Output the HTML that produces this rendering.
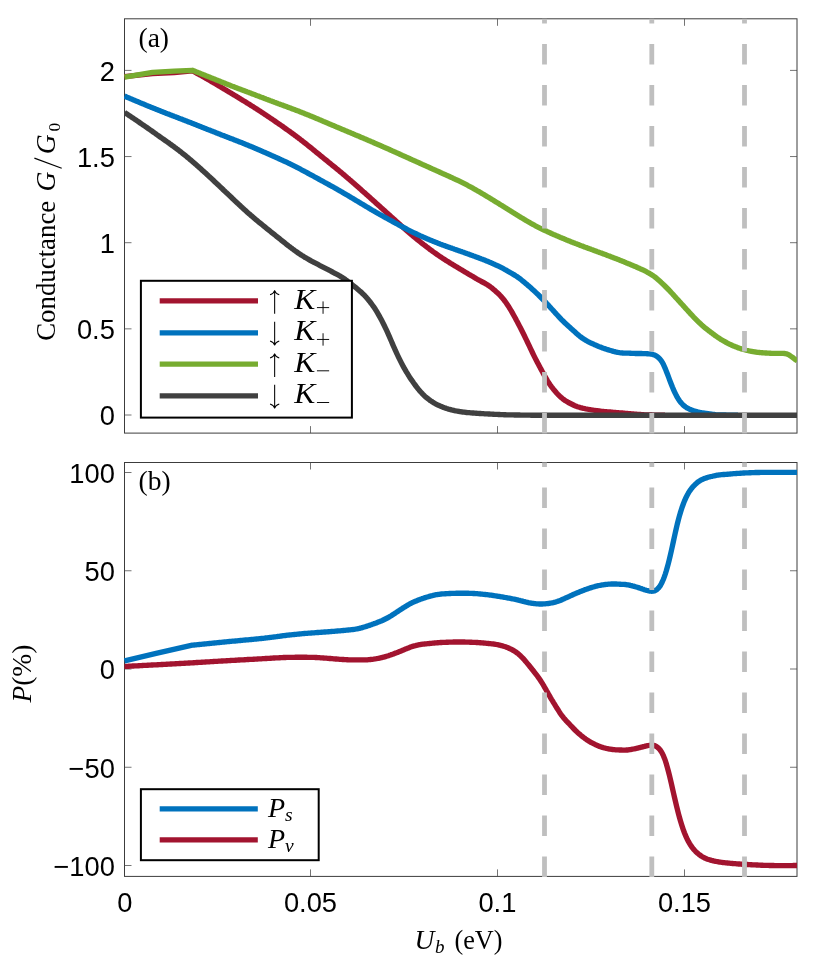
<!DOCTYPE html>
<html><head><meta charset="utf-8"><title>Conductance and polarization</title>
<style>html,body{margin:0;padding:0;background:#fff;}body{width:830px;height:964px;overflow:hidden;font-family:"Liberation Sans",sans-serif;}svg{display:block;will-change:transform;}</style></head>
<body>
<svg width="830" height="964" viewBox="0 0 830 964">
<rect width="830" height="964" fill="#fff"/>
<defs><clipPath id="ca"><rect x="124.00" y="18.30" width="673.00" height="415.50"/></clipPath><clipPath id="cb"><rect x="124.00" y="462.00" width="673.00" height="415.10"/></clipPath></defs>
<rect x="124.50" y="18.80" width="672.50" height="414.30" fill="none" stroke="#3c3c3c" stroke-width="1"/><path d="M310.50 433.10 v-7.00 M310.50 18.80 v7.00 M497.50 433.10 v-7.00 M497.50 18.80 v7.00 M684.50 433.10 v-7.00 M684.50 18.80 v7.00 M124.50 415.00 h7.00 M797.00 415.00 h-7.00 M124.50 328.85 h7.00 M797.00 328.85 h-7.00 M124.50 242.70 h7.00 M797.00 242.70 h-7.00 M124.50 156.55 h7.00 M797.00 156.55 h-7.00 M124.50 70.40 h7.00 M797.00 70.40 h-7.00 " stroke="#454545" stroke-width="0.75" fill="none"/>
<g clip-path="url(#ca)">
<path d="M124.5 76.6 L152.5 73.6 L174.2 72.7 L192.4 70.8 L193.4 71.3 L194.4 71.9 L195.4 72.4 L196.4 73.0 L197.4 73.5 L198.4 74.1 L199.4 74.6 L200.4 75.2 L201.4 75.7 L202.4 76.3 L203.4 76.8 L204.4 77.4 L205.4 78.0 L206.4 78.5 L207.4 79.1 L208.4 79.7 L209.4 80.3 L210.4 80.9 L211.4 81.5 L212.4 82.0 L213.4 82.6 L214.4 83.2 L215.4 83.8 L216.4 84.4 L217.4 85.0 L218.4 85.6 L219.4 86.2 L220.4 86.8 L221.4 87.4 L222.4 88.0 L223.4 88.6 L224.4 89.2 L225.4 89.8 L226.4 90.4 L227.4 91.0 L228.4 91.6 L229.4 92.2 L230.4 92.8 L231.4 93.4 L232.4 94.0 L233.4 94.6 L234.4 95.2 L235.4 95.8 L236.4 96.4 L237.4 97.0 L238.4 97.6 L239.4 98.2 L240.4 98.9 L241.4 99.5 L242.4 100.1 L243.4 100.7 L244.4 101.3 L245.4 101.9 L246.4 102.5 L247.4 103.2 L248.4 103.8 L249.4 104.4 L250.4 105.0 L251.4 105.7 L252.4 106.3 L253.4 106.9 L254.4 107.6 L255.4 108.2 L256.4 108.8 L257.4 109.5 L258.4 110.1 L259.4 110.8 L260.4 111.4 L261.4 112.1 L262.4 112.7 L263.4 113.4 L264.4 114.1 L265.4 114.7 L266.4 115.4 L267.4 116.1 L268.4 116.7 L269.4 117.4 L270.4 118.1 L271.4 118.8 L272.4 119.4 L273.4 120.1 L274.4 120.8 L275.4 121.5 L276.4 122.2 L277.4 122.9 L278.4 123.6 L279.4 124.2 L280.4 124.9 L281.4 125.6 L282.4 126.3 L283.4 127.0 L284.4 127.8 L285.4 128.5 L286.4 129.2 L287.4 129.9 L288.4 130.6 L289.4 131.3 L290.4 132.0 L291.4 132.8 L292.4 133.5 L293.4 134.2 L294.4 135.0 L295.4 135.7 L296.4 136.5 L297.4 137.2 L298.4 138.0 L299.4 138.7 L300.4 139.5 L301.4 140.3 L302.4 141.0 L303.4 141.8 L304.4 142.6 L305.4 143.4 L306.4 144.2 L307.4 145.0 L308.4 145.8 L309.4 146.6 L310.4 147.4 L311.4 148.2 L312.4 149.0 L313.4 149.8 L314.4 150.7 L315.4 151.5 L316.4 152.3 L317.4 153.1 L318.4 153.9 L319.4 154.7 L320.4 155.6 L321.4 156.4 L322.4 157.2 L323.4 158.0 L324.4 158.8 L325.4 159.6 L326.4 160.4 L327.4 161.2 L328.4 162.1 L329.4 162.9 L330.4 163.7 L331.4 164.5 L332.4 165.3 L333.4 166.1 L334.4 166.9 L335.4 167.7 L336.4 168.6 L337.4 169.4 L338.4 170.2 L339.4 171.0 L340.4 171.9 L341.4 172.7 L342.4 173.5 L343.4 174.4 L344.4 175.2 L345.4 176.1 L346.4 176.9 L347.4 177.8 L348.4 178.6 L349.4 179.5 L350.4 180.3 L351.4 181.2 L352.4 182.1 L353.4 182.9 L354.4 183.8 L355.4 184.7 L356.4 185.6 L357.4 186.4 L358.4 187.3 L359.4 188.2 L360.4 189.1 L361.4 190.0 L362.4 190.9 L363.4 191.8 L364.4 192.6 L365.4 193.5 L366.4 194.4 L367.4 195.3 L368.4 196.2 L369.4 197.1 L370.4 198.0 L371.4 198.9 L372.4 199.8 L373.4 200.7 L374.4 201.6 L375.4 202.5 L376.4 203.4 L377.4 204.3 L378.4 205.2 L379.4 206.1 L380.4 207.0 L381.4 207.9 L382.4 208.8 L383.4 209.7 L384.4 210.6 L385.4 211.5 L386.4 212.4 L387.4 213.3 L388.4 214.2 L389.4 215.1 L390.4 216.0 L391.4 216.9 L392.4 217.8 L393.4 218.7 L394.4 219.6 L395.4 220.5 L396.4 221.4 L397.4 222.3 L398.4 223.2 L399.4 224.1 L400.4 225.0 L401.4 225.9 L402.4 226.8 L403.4 227.7 L404.4 228.6 L405.4 229.5 L406.4 230.3 L407.4 231.2 L408.4 232.1 L409.4 232.9 L410.4 233.8 L411.4 234.6 L412.4 235.5 L413.4 236.3 L414.4 237.1 L415.4 237.9 L416.4 238.8 L417.4 239.6 L418.4 240.4 L419.4 241.2 L420.4 242.0 L421.4 242.8 L422.4 243.6 L423.4 244.4 L424.4 245.1 L425.4 245.9 L426.4 246.7 L427.4 247.4 L428.4 248.2 L429.4 249.0 L430.4 249.7 L431.4 250.4 L432.4 251.2 L433.4 251.9 L434.4 252.6 L435.4 253.3 L436.4 254.0 L437.4 254.7 L438.4 255.4 L439.4 256.1 L440.4 256.8 L441.4 257.4 L442.4 258.1 L443.4 258.8 L444.4 259.4 L445.4 260.0 L446.4 260.7 L447.4 261.3 L448.4 261.9 L449.4 262.5 L450.4 263.2 L451.4 263.8 L452.4 264.4 L453.4 265.0 L454.4 265.6 L455.4 266.2 L456.4 266.8 L457.4 267.4 L458.4 268.0 L459.4 268.6 L460.4 269.2 L461.4 269.8 L462.4 270.4 L463.4 271.0 L464.4 271.6 L465.4 272.2 L466.4 272.8 L467.4 273.4 L468.4 274.0 L469.4 274.6 L470.4 275.1 L471.4 275.7 L472.4 276.3 L473.4 276.9 L474.4 277.5 L475.4 278.1 L476.4 278.7 L477.4 279.3 L478.4 279.8 L479.4 280.4 L480.4 280.9 L481.4 281.5 L482.4 282.0 L483.4 282.5 L484.4 283.0 L485.4 283.6 L486.4 284.2 L487.4 284.8 L488.4 285.5 L489.4 286.1 L490.4 286.9 L491.4 287.6 L492.4 288.4 L493.4 289.3 L494.4 290.1 L495.4 291.0 L496.4 291.9 L497.4 292.8 L498.4 293.7 L499.4 294.7 L500.4 295.8 L501.4 296.9 L502.4 298.0 L503.4 299.2 L504.4 300.5 L505.4 301.8 L506.4 303.2 L507.4 304.7 L508.4 306.2 L509.4 307.8 L510.4 309.5 L511.4 311.2 L512.4 312.9 L513.4 314.7 L514.4 316.5 L515.4 318.3 L516.4 320.2 L517.4 322.0 L518.4 323.9 L519.4 325.9 L520.4 327.8 L521.4 329.8 L522.4 331.8 L523.4 333.8 L524.4 335.8 L525.4 337.9 L526.4 339.9 L527.4 342.0 L528.4 344.1 L529.4 346.2 L530.4 348.3 L531.4 350.4 L532.4 352.5 L533.4 354.6 L534.4 356.6 L535.4 358.6 L536.4 360.5 L537.4 362.4 L538.4 364.3 L539.4 366.2 L540.4 368.1 L541.4 369.9 L542.4 371.8 L543.4 373.6 L544.4 375.4 L545.4 377.2 L546.4 378.9 L547.4 380.6 L548.4 382.2 L549.4 383.7 L550.4 385.2 L551.4 386.6 L552.4 387.9 L553.4 389.2 L554.4 390.4 L555.4 391.5 L556.4 392.7 L557.4 393.8 L558.4 394.8 L559.4 395.8 L560.4 396.8 L561.4 397.7 L562.4 398.5 L563.4 399.3 L564.4 400.0 L565.4 400.7 L566.4 401.3 L567.4 401.9 L568.4 402.5 L569.4 403.0 L570.4 403.5 L571.4 404.0 L572.4 404.5 L573.4 405.0 L574.4 405.5 L575.4 405.9 L576.4 406.3 L577.4 406.7 L578.4 407.0 L579.4 407.3 L580.4 407.6 L581.4 407.8 L582.4 408.1 L583.4 408.3 L584.4 408.5 L585.4 408.8 L586.4 409.0 L587.4 409.2 L588.4 409.3 L589.4 409.5 L590.4 409.7 L591.4 409.8 L592.4 410.0 L593.4 410.2 L594.4 410.3 L595.4 410.5 L596.4 410.6 L597.4 410.7 L598.4 410.9 L599.4 411.0 L600.4 411.1 L601.4 411.3 L602.4 411.4 L603.4 411.5 L604.4 411.6 L605.4 411.6 L606.4 411.7 L607.4 411.8 L608.4 411.9 L609.4 412.0 L610.4 412.0 L611.4 412.1 L612.4 412.2 L613.4 412.3 L614.4 412.4 L615.4 412.5 L616.4 412.6 L617.4 412.6 L618.4 412.7 L619.4 412.8 L620.4 412.9 L621.4 413.0 L622.4 413.0 L623.4 413.1 L624.4 413.2 L625.4 413.3 L626.4 413.4 L627.4 413.5 L628.4 413.6 L629.4 413.6 L630.4 413.7 L631.4 413.8 L632.4 413.9 L633.4 414.0 L634.4 414.1 L635.4 414.1 L636.4 414.2 L637.4 414.3 L638.4 414.4 L639.4 414.4 L640.4 414.5 L641.4 414.6 L642.4 414.6 L643.4 414.7 L644.4 414.8 L645.4 414.8 L646.4 414.9 L647.4 414.9 L648.4 414.9 L649.4 415.0 L650.4 415.0 L651.4 415.0 L652.4 415.1 L653.4 415.1 L654.4 415.1 L655.4 415.1 L656.4 415.1 L657.4 415.1 L658.4 415.2 L659.4 415.2 L660.4 415.2 L661.4 415.2 L662.4 415.2 L663.4 415.2 L664.4 415.2 L665.0 415.2" fill="none" stroke="#A2142F" stroke-width="5.35" stroke-linejoin="round" stroke-linecap="butt"/>
<path d="M124.5 96.1 L125.5 96.5 L126.5 97.0 L127.5 97.4 L128.5 97.8 L129.5 98.2 L130.5 98.7 L131.5 99.1 L132.5 99.5 L133.5 99.9 L134.5 100.3 L135.5 100.8 L136.5 101.2 L137.5 101.6 L138.5 102.0 L139.5 102.4 L140.5 102.9 L141.5 103.3 L142.5 103.7 L143.5 104.1 L144.5 104.5 L145.5 104.9 L146.5 105.4 L147.5 105.8 L148.5 106.2 L149.5 106.6 L150.5 107.0 L151.5 107.4 L152.5 107.8 L153.5 108.2 L154.5 108.6 L155.5 109.0 L156.5 109.4 L157.5 109.8 L158.5 110.2 L159.5 110.6 L160.5 111.0 L161.5 111.4 L162.5 111.8 L163.5 112.2 L164.5 112.6 L165.5 113.0 L166.5 113.4 L167.5 113.8 L168.5 114.1 L169.5 114.5 L170.5 114.9 L171.5 115.3 L172.5 115.7 L173.5 116.1 L174.5 116.5 L175.5 116.8 L176.5 117.2 L177.5 117.6 L178.5 118.0 L179.5 118.4 L180.5 118.8 L181.5 119.1 L182.5 119.5 L183.5 119.9 L184.5 120.3 L185.5 120.7 L186.5 121.1 L187.5 121.5 L188.5 121.9 L189.5 122.2 L190.5 122.6 L191.5 123.0 L192.5 123.4 L193.5 123.8 L194.5 124.2 L195.5 124.6 L196.5 125.0 L197.5 125.4 L198.5 125.8 L199.5 126.2 L200.5 126.6 L201.5 127.0 L202.5 127.4 L203.5 127.8 L204.5 128.2 L205.5 128.6 L206.5 129.0 L207.5 129.4 L208.5 129.8 L209.5 130.1 L210.5 130.5 L211.5 130.9 L212.5 131.3 L213.5 131.7 L214.5 132.1 L215.5 132.5 L216.5 132.9 L217.5 133.3 L218.5 133.7 L219.5 134.1 L220.5 134.5 L221.5 134.9 L222.5 135.3 L223.5 135.6 L224.5 136.0 L225.5 136.4 L226.5 136.8 L227.5 137.2 L228.5 137.6 L229.5 138.0 L230.5 138.4 L231.5 138.7 L232.5 139.1 L233.5 139.5 L234.5 139.9 L235.5 140.3 L236.5 140.7 L237.5 141.1 L238.5 141.5 L239.5 141.9 L240.5 142.2 L241.5 142.6 L242.5 143.0 L243.5 143.4 L244.5 143.8 L245.5 144.3 L246.5 144.7 L247.5 145.1 L248.5 145.5 L249.5 145.9 L250.5 146.3 L251.5 146.7 L252.5 147.1 L253.5 147.6 L254.5 148.0 L255.5 148.4 L256.5 148.8 L257.5 149.3 L258.5 149.7 L259.5 150.1 L260.5 150.6 L261.5 151.0 L262.5 151.4 L263.5 151.9 L264.5 152.3 L265.5 152.7 L266.5 153.2 L267.5 153.6 L268.5 154.1 L269.5 154.5 L270.5 154.9 L271.5 155.4 L272.5 155.8 L273.5 156.3 L274.5 156.7 L275.5 157.2 L276.5 157.6 L277.5 158.1 L278.5 158.5 L279.5 159.0 L280.5 159.4 L281.5 159.9 L282.5 160.3 L283.5 160.8 L284.5 161.3 L285.5 161.7 L286.5 162.2 L287.5 162.7 L288.5 163.2 L289.5 163.6 L290.5 164.1 L291.5 164.6 L292.5 165.1 L293.5 165.6 L294.5 166.1 L295.5 166.6 L296.5 167.1 L297.5 167.7 L298.5 168.2 L299.5 168.7 L300.5 169.2 L301.5 169.8 L302.5 170.3 L303.5 170.8 L304.5 171.4 L305.5 171.9 L306.5 172.4 L307.5 173.0 L308.5 173.5 L309.5 174.1 L310.5 174.6 L311.5 175.2 L312.5 175.7 L313.5 176.2 L314.5 176.8 L315.5 177.3 L316.5 177.9 L317.5 178.4 L318.5 179.0 L319.5 179.5 L320.5 180.1 L321.5 180.6 L322.5 181.2 L323.5 181.7 L324.5 182.3 L325.5 182.8 L326.5 183.4 L327.5 183.9 L328.5 184.5 L329.5 185.0 L330.5 185.6 L331.5 186.1 L332.5 186.7 L333.5 187.2 L334.5 187.8 L335.5 188.4 L336.5 188.9 L337.5 189.5 L338.5 190.1 L339.5 190.6 L340.5 191.2 L341.5 191.8 L342.5 192.4 L343.5 193.0 L344.5 193.6 L345.5 194.1 L346.5 194.7 L347.5 195.3 L348.5 195.9 L349.5 196.5 L350.5 197.1 L351.5 197.7 L352.5 198.3 L353.5 198.9 L354.5 199.5 L355.5 200.1 L356.5 200.7 L357.5 201.3 L358.5 201.9 L359.5 202.5 L360.5 203.1 L361.5 203.7 L362.5 204.3 L363.5 204.9 L364.5 205.5 L365.5 206.1 L366.5 206.7 L367.5 207.3 L368.5 207.9 L369.5 208.5 L370.5 209.1 L371.5 209.7 L372.5 210.3 L373.5 210.8 L374.5 211.4 L375.5 212.0 L376.5 212.6 L377.5 213.1 L378.5 213.7 L379.5 214.3 L380.5 214.8 L381.5 215.4 L382.5 215.9 L383.5 216.5 L384.5 217.1 L385.5 217.6 L386.5 218.2 L387.5 218.7 L388.5 219.3 L389.5 219.8 L390.5 220.4 L391.5 220.9 L392.5 221.5 L393.5 222.0 L394.5 222.6 L395.5 223.1 L396.5 223.7 L397.5 224.2 L398.5 224.8 L399.5 225.3 L400.5 225.9 L401.5 226.4 L402.5 226.9 L403.5 227.5 L404.5 228.0 L405.5 228.5 L406.5 229.0 L407.5 229.6 L408.5 230.1 L409.5 230.6 L410.5 231.1 L411.5 231.6 L412.5 232.1 L413.5 232.6 L414.5 233.1 L415.5 233.5 L416.5 234.0 L417.5 234.5 L418.5 234.9 L419.5 235.4 L420.5 235.9 L421.5 236.3 L422.5 236.7 L423.5 237.2 L424.5 237.6 L425.5 238.1 L426.5 238.5 L427.5 238.9 L428.5 239.3 L429.5 239.8 L430.5 240.2 L431.5 240.6 L432.5 241.0 L433.5 241.4 L434.5 241.8 L435.5 242.2 L436.5 242.6 L437.5 243.0 L438.5 243.4 L439.5 243.8 L440.5 244.2 L441.5 244.5 L442.5 244.9 L443.5 245.3 L444.5 245.6 L445.5 246.0 L446.5 246.4 L447.5 246.7 L448.5 247.1 L449.5 247.4 L450.5 247.8 L451.5 248.1 L452.5 248.5 L453.5 248.8 L454.5 249.2 L455.5 249.5 L456.5 249.9 L457.5 250.2 L458.5 250.6 L459.5 250.9 L460.5 251.3 L461.5 251.6 L462.5 252.0 L463.5 252.3 L464.5 252.7 L465.5 253.1 L466.5 253.4 L467.5 253.8 L468.5 254.1 L469.5 254.5 L470.5 254.9 L471.5 255.2 L472.5 255.6 L473.5 256.0 L474.5 256.3 L475.5 256.7 L476.5 257.1 L477.5 257.4 L478.5 257.8 L479.5 258.2 L480.5 258.6 L481.5 259.0 L482.5 259.3 L483.5 259.7 L484.5 260.1 L485.5 260.5 L486.5 260.9 L487.5 261.3 L488.5 261.7 L489.5 262.2 L490.5 262.6 L491.5 263.0 L492.5 263.4 L493.5 263.9 L494.5 264.3 L495.5 264.8 L496.5 265.3 L497.5 265.7 L498.5 266.2 L499.5 266.7 L500.5 267.2 L501.5 267.7 L502.5 268.2 L503.5 268.7 L504.5 269.3 L505.5 269.8 L506.5 270.4 L507.5 271.0 L508.5 271.6 L509.5 272.1 L510.5 272.7 L511.5 273.3 L512.5 273.9 L513.5 274.5 L514.5 275.0 L515.5 275.7 L516.5 276.3 L517.5 277.0 L518.5 277.7 L519.5 278.4 L520.5 279.2 L521.5 280.0 L522.5 280.8 L523.5 281.6 L524.5 282.4 L525.5 283.3 L526.5 284.1 L527.5 285.0 L528.5 285.9 L529.5 286.7 L530.5 287.6 L531.5 288.5 L532.5 289.4 L533.5 290.3 L534.5 291.2 L535.5 292.2 L536.5 293.1 L537.5 294.1 L538.5 295.0 L539.5 296.0 L540.5 297.0 L541.5 298.0 L542.5 299.0 L543.5 300.0 L544.5 301.0 L545.5 302.1 L546.5 303.2 L547.5 304.3 L548.5 305.4 L549.5 306.5 L550.5 307.6 L551.5 308.7 L552.5 309.8 L553.5 310.9 L554.5 312.0 L555.5 313.1 L556.5 314.2 L557.5 315.3 L558.5 316.4 L559.5 317.5 L560.5 318.5 L561.5 319.6 L562.5 320.6 L563.5 321.5 L564.5 322.5 L565.5 323.4 L566.5 324.3 L567.5 325.3 L568.5 326.2 L569.5 327.1 L570.5 328.0 L571.5 328.9 L572.5 329.8 L573.5 330.7 L574.5 331.6 L575.5 332.5 L576.5 333.4 L577.5 334.3 L578.5 335.2 L579.5 336.0 L580.5 336.8 L581.5 337.5 L582.5 338.2 L583.5 338.9 L584.5 339.5 L585.5 340.1 L586.5 340.7 L587.5 341.3 L588.5 341.8 L589.5 342.3 L590.5 342.8 L591.5 343.3 L592.5 343.7 L593.5 344.2 L594.5 344.7 L595.5 345.1 L596.5 345.5 L597.5 345.9 L598.5 346.4 L599.5 346.8 L600.5 347.1 L601.5 347.5 L602.5 347.9 L603.5 348.3 L604.5 348.6 L605.5 348.9 L606.5 349.3 L607.5 349.6 L608.5 349.9 L609.5 350.2 L610.5 350.5 L611.5 350.8 L612.5 351.1 L613.5 351.4 L614.5 351.6 L615.5 351.9 L616.5 352.1 L617.5 352.3 L618.5 352.5 L619.5 352.7 L620.5 352.8 L621.5 352.9 L622.5 353.0 L623.5 353.1 L624.5 353.1 L625.5 353.1 L626.5 353.1 L627.5 353.1 L628.5 353.1 L629.5 353.2 L630.5 353.2 L631.5 353.3 L632.5 353.3 L633.5 353.4 L634.5 353.4 L635.5 353.5 L636.5 353.5 L637.5 353.5 L638.5 353.5 L639.5 353.5 L640.5 353.5 L641.5 353.5 L642.5 353.6 L643.5 353.6 L644.5 353.6 L645.5 353.6 L646.5 353.7 L647.5 353.7 L648.5 353.8 L649.5 353.9 L650.5 354.0 L651.5 354.2 L652.5 354.4 L653.5 354.7 L654.5 355.1 L655.5 355.5 L656.5 356.1 L657.5 356.8 L658.5 357.6 L659.5 358.6 L660.5 359.7 L661.5 361.1 L662.5 362.7 L663.5 364.6 L664.5 366.8 L665.5 369.1 L666.5 371.7 L667.5 374.3 L668.5 376.9 L669.5 379.6 L670.5 382.2 L671.5 384.8 L672.5 387.3 L673.5 389.6 L674.5 391.8 L675.5 393.9 L676.5 395.9 L677.5 397.7 L678.5 399.3 L679.5 400.8 L680.5 402.1 L681.5 403.2 L682.5 404.3 L683.5 405.3 L684.5 406.1 L685.5 406.9 L686.5 407.6 L687.5 408.2 L688.5 408.7 L689.5 409.2 L690.5 409.6 L691.5 410.0 L692.5 410.4 L693.5 410.7 L694.5 411.0 L695.5 411.3 L696.5 411.6 L697.5 411.9 L698.5 412.1 L699.5 412.3 L700.5 412.5 L701.5 412.7 L702.5 412.8 L703.5 413.0 L704.5 413.1 L705.5 413.3 L706.5 413.4 L707.5 413.6 L708.5 413.7 L709.5 413.8 L710.5 414.0 L711.5 414.1 L712.5 414.3 L713.5 414.4 L714.5 414.5 L715.5 414.7 L716.5 414.8 L717.5 414.9 L718.5 414.9 L719.5 415.0 L720.5 415.0 L721.5 415.0 L722.5 415.0 L723.5 415.0 L724.5 415.0 L725.5 415.0 L726.5 415.1 L727.5 415.1 L728.5 415.1 L729.5 415.1 L730.5 415.1 L731.5 415.2 L732.5 415.2 L733.5 415.2 L734.5 415.2 L735.5 415.2 L736.5 415.2 L737.5 415.2 L738.0 415.2" fill="none" stroke="#0072BD" stroke-width="5.35" stroke-linejoin="round" stroke-linecap="butt"/>
<path d="M124.5 77.2 L152.5 72.3 L174.2 71.2 L192.4 70.3 L193.4 70.7 L194.4 71.1 L195.4 71.5 L196.4 71.9 L197.4 72.3 L198.4 72.7 L199.4 73.1 L200.4 73.5 L201.4 73.9 L202.4 74.3 L203.4 74.7 L204.4 75.1 L205.4 75.5 L206.4 75.9 L207.4 76.3 L208.4 76.7 L209.4 77.1 L210.4 77.5 L211.4 77.9 L212.4 78.3 L213.4 78.7 L214.4 79.1 L215.4 79.5 L216.4 79.9 L217.4 80.3 L218.4 80.7 L219.4 81.1 L220.4 81.5 L221.4 81.9 L222.4 82.3 L223.4 82.7 L224.4 83.1 L225.4 83.5 L226.4 83.9 L227.4 84.3 L228.4 84.7 L229.4 85.1 L230.4 85.5 L231.4 85.9 L232.4 86.3 L233.4 86.6 L234.4 87.0 L235.4 87.4 L236.4 87.8 L237.4 88.2 L238.4 88.6 L239.4 88.9 L240.4 89.3 L241.4 89.7 L242.4 90.1 L243.4 90.4 L244.4 90.8 L245.4 91.2 L246.4 91.6 L247.4 92.0 L248.4 92.3 L249.4 92.7 L250.4 93.1 L251.4 93.5 L252.4 93.9 L253.4 94.2 L254.4 94.6 L255.4 95.0 L256.4 95.4 L257.4 95.8 L258.4 96.1 L259.4 96.5 L260.4 96.9 L261.4 97.3 L262.4 97.6 L263.4 98.0 L264.4 98.4 L265.4 98.8 L266.4 99.2 L267.4 99.5 L268.4 99.9 L269.4 100.3 L270.4 100.7 L271.4 101.0 L272.4 101.4 L273.4 101.8 L274.4 102.2 L275.4 102.5 L276.4 102.9 L277.4 103.3 L278.4 103.7 L279.4 104.0 L280.4 104.4 L281.4 104.8 L282.4 105.1 L283.4 105.5 L284.4 105.9 L285.4 106.2 L286.4 106.6 L287.4 107.0 L288.4 107.4 L289.4 107.7 L290.4 108.1 L291.4 108.5 L292.4 108.9 L293.4 109.2 L294.4 109.6 L295.4 110.0 L296.4 110.4 L297.4 110.7 L298.4 111.1 L299.4 111.5 L300.4 111.9 L301.4 112.3 L302.4 112.7 L303.4 113.1 L304.4 113.5 L305.4 113.9 L306.4 114.3 L307.4 114.7 L308.4 115.1 L309.4 115.5 L310.4 115.9 L311.4 116.3 L312.4 116.7 L313.4 117.1 L314.4 117.6 L315.4 118.0 L316.4 118.4 L317.4 118.8 L318.4 119.2 L319.4 119.7 L320.4 120.1 L321.4 120.5 L322.4 120.9 L323.4 121.4 L324.4 121.8 L325.4 122.2 L326.4 122.6 L327.4 123.1 L328.4 123.5 L329.4 123.9 L330.4 124.3 L331.4 124.8 L332.4 125.2 L333.4 125.6 L334.4 126.0 L335.4 126.4 L336.4 126.9 L337.4 127.3 L338.4 127.7 L339.4 128.1 L340.4 128.6 L341.4 129.0 L342.4 129.4 L343.4 129.8 L344.4 130.2 L345.4 130.7 L346.4 131.1 L347.4 131.5 L348.4 131.9 L349.4 132.3 L350.4 132.7 L351.4 133.2 L352.4 133.6 L353.4 134.0 L354.4 134.4 L355.4 134.9 L356.4 135.3 L357.4 135.7 L358.4 136.1 L359.4 136.5 L360.4 137.0 L361.4 137.4 L362.4 137.8 L363.4 138.2 L364.4 138.7 L365.4 139.1 L366.4 139.5 L367.4 139.9 L368.4 140.4 L369.4 140.8 L370.4 141.2 L371.4 141.7 L372.4 142.1 L373.4 142.5 L374.4 143.0 L375.4 143.4 L376.4 143.8 L377.4 144.3 L378.4 144.7 L379.4 145.1 L380.4 145.6 L381.4 146.0 L382.4 146.4 L383.4 146.9 L384.4 147.3 L385.4 147.8 L386.4 148.2 L387.4 148.6 L388.4 149.1 L389.4 149.5 L390.4 150.0 L391.4 150.4 L392.4 150.9 L393.4 151.3 L394.4 151.8 L395.4 152.2 L396.4 152.7 L397.4 153.1 L398.4 153.6 L399.4 154.0 L400.4 154.5 L401.4 154.9 L402.4 155.4 L403.4 155.8 L404.4 156.3 L405.4 156.7 L406.4 157.2 L407.4 157.6 L408.4 158.1 L409.4 158.5 L410.4 159.0 L411.4 159.4 L412.4 159.9 L413.4 160.3 L414.4 160.8 L415.4 161.2 L416.4 161.7 L417.4 162.1 L418.4 162.6 L419.4 163.0 L420.4 163.5 L421.4 163.9 L422.4 164.4 L423.4 164.8 L424.4 165.3 L425.4 165.7 L426.4 166.2 L427.4 166.6 L428.4 167.1 L429.4 167.5 L430.4 168.0 L431.4 168.4 L432.4 168.9 L433.4 169.3 L434.4 169.8 L435.4 170.2 L436.4 170.7 L437.4 171.1 L438.4 171.6 L439.4 172.0 L440.4 172.5 L441.4 172.9 L442.4 173.4 L443.4 173.8 L444.4 174.3 L445.4 174.7 L446.4 175.2 L447.4 175.6 L448.4 176.1 L449.4 176.5 L450.4 177.0 L451.4 177.4 L452.4 177.9 L453.4 178.4 L454.4 178.8 L455.4 179.3 L456.4 179.8 L457.4 180.2 L458.4 180.7 L459.4 181.2 L460.4 181.7 L461.4 182.2 L462.4 182.7 L463.4 183.2 L464.4 183.7 L465.4 184.2 L466.4 184.7 L467.4 185.2 L468.4 185.8 L469.4 186.3 L470.4 186.8 L471.4 187.4 L472.4 187.9 L473.4 188.5 L474.4 189.1 L475.4 189.6 L476.4 190.2 L477.4 190.8 L478.4 191.3 L479.4 191.9 L480.4 192.5 L481.4 193.1 L482.4 193.7 L483.4 194.3 L484.4 194.9 L485.4 195.5 L486.4 196.1 L487.4 196.7 L488.4 197.3 L489.4 197.9 L490.4 198.5 L491.4 199.1 L492.4 199.7 L493.4 200.3 L494.4 201.0 L495.4 201.6 L496.4 202.2 L497.4 202.8 L498.4 203.4 L499.4 204.0 L500.4 204.7 L501.4 205.3 L502.4 205.9 L503.4 206.5 L504.4 207.1 L505.4 207.8 L506.4 208.4 L507.4 209.0 L508.4 209.6 L509.4 210.3 L510.4 210.9 L511.4 211.5 L512.4 212.1 L513.4 212.8 L514.4 213.4 L515.4 214.0 L516.4 214.6 L517.4 215.2 L518.4 215.9 L519.4 216.5 L520.4 217.1 L521.4 217.7 L522.4 218.3 L523.4 218.9 L524.4 219.5 L525.4 220.1 L526.4 220.7 L527.4 221.3 L528.4 221.9 L529.4 222.4 L530.4 223.0 L531.4 223.6 L532.4 224.1 L533.4 224.7 L534.4 225.2 L535.4 225.8 L536.4 226.3 L537.4 226.8 L538.4 227.3 L539.4 227.8 L540.4 228.3 L541.4 228.8 L542.4 229.3 L543.4 229.8 L544.4 230.3 L545.4 230.7 L546.4 231.2 L547.4 231.7 L548.4 232.1 L549.4 232.6 L550.4 233.0 L551.4 233.5 L552.4 233.9 L553.4 234.4 L554.4 234.8 L555.4 235.2 L556.4 235.7 L557.4 236.1 L558.4 236.5 L559.4 236.9 L560.4 237.4 L561.4 237.8 L562.4 238.2 L563.4 238.6 L564.4 239.0 L565.4 239.4 L566.4 239.9 L567.4 240.3 L568.4 240.7 L569.4 241.1 L570.4 241.5 L571.4 241.9 L572.4 242.3 L573.4 242.7 L574.4 243.1 L575.4 243.5 L576.4 243.8 L577.4 244.2 L578.4 244.6 L579.4 245.0 L580.4 245.4 L581.4 245.8 L582.4 246.1 L583.4 246.5 L584.4 246.9 L585.4 247.3 L586.4 247.6 L587.4 248.0 L588.4 248.4 L589.4 248.7 L590.4 249.1 L591.4 249.5 L592.4 249.8 L593.4 250.2 L594.4 250.6 L595.4 250.9 L596.4 251.3 L597.4 251.7 L598.4 252.0 L599.4 252.4 L600.4 252.8 L601.4 253.1 L602.4 253.5 L603.4 253.9 L604.4 254.2 L605.4 254.6 L606.4 255.0 L607.4 255.4 L608.4 255.8 L609.4 256.1 L610.4 256.5 L611.4 256.9 L612.4 257.3 L613.4 257.7 L614.4 258.1 L615.4 258.4 L616.4 258.8 L617.4 259.2 L618.4 259.6 L619.4 260.0 L620.4 260.4 L621.4 260.8 L622.4 261.2 L623.4 261.6 L624.4 262.0 L625.4 262.4 L626.4 262.9 L627.4 263.3 L628.4 263.7 L629.4 264.1 L630.4 264.5 L631.4 264.9 L632.4 265.3 L633.4 265.8 L634.4 266.2 L635.4 266.6 L636.4 267.0 L637.4 267.5 L638.4 267.9 L639.4 268.3 L640.4 268.8 L641.4 269.3 L642.4 269.7 L643.4 270.2 L644.4 270.7 L645.4 271.2 L646.4 271.7 L647.4 272.3 L648.4 272.8 L649.4 273.4 L650.4 274.0 L651.4 274.6 L652.4 275.2 L653.4 275.9 L654.4 276.6 L655.4 277.4 L656.4 278.2 L657.4 279.1 L658.4 279.9 L659.4 280.8 L660.4 281.7 L661.4 282.7 L662.4 283.6 L663.4 284.6 L664.4 285.5 L665.4 286.5 L666.4 287.5 L667.4 288.5 L668.4 289.5 L669.4 290.5 L670.4 291.6 L671.4 292.7 L672.4 293.8 L673.4 294.9 L674.4 296.0 L675.4 297.1 L676.4 298.2 L677.4 299.3 L678.4 300.4 L679.4 301.5 L680.4 302.6 L681.4 303.7 L682.4 304.8 L683.4 305.9 L684.4 307.0 L685.4 308.1 L686.4 309.2 L687.4 310.3 L688.4 311.4 L689.4 312.5 L690.4 313.6 L691.4 314.7 L692.4 315.7 L693.4 316.8 L694.4 317.8 L695.4 318.8 L696.4 319.8 L697.4 320.8 L698.4 321.8 L699.4 322.8 L700.4 323.7 L701.4 324.7 L702.4 325.6 L703.4 326.4 L704.4 327.3 L705.4 328.1 L706.4 328.9 L707.4 329.7 L708.4 330.5 L709.4 331.2 L710.4 332.0 L711.4 332.7 L712.4 333.5 L713.4 334.2 L714.4 335.0 L715.4 335.7 L716.4 336.4 L717.4 337.1 L718.4 337.8 L719.4 338.4 L720.4 339.1 L721.4 339.7 L722.4 340.3 L723.4 340.9 L724.4 341.4 L725.4 342.0 L726.4 342.5 L727.4 343.1 L728.4 343.6 L729.4 344.1 L730.4 344.6 L731.4 345.0 L732.4 345.5 L733.4 345.9 L734.4 346.3 L735.4 346.7 L736.4 347.1 L737.4 347.5 L738.4 347.9 L739.4 348.2 L740.4 348.5 L741.4 348.9 L742.4 349.2 L743.4 349.5 L744.4 349.7 L745.4 350.0 L746.4 350.3 L747.4 350.5 L748.4 350.7 L749.4 351.0 L750.4 351.2 L751.4 351.4 L752.4 351.5 L753.4 351.7 L754.4 351.9 L755.4 352.0 L756.4 352.1 L757.4 352.3 L758.4 352.4 L759.4 352.5 L760.4 352.6 L761.4 352.7 L762.4 352.7 L763.4 352.8 L764.4 352.9 L765.4 353.0 L766.4 353.0 L767.4 353.1 L768.4 353.1 L769.4 353.2 L770.4 353.2 L771.4 353.3 L772.4 353.3 L773.4 353.3 L774.4 353.3 L775.4 353.3 L776.4 353.3 L777.4 353.3 L778.4 353.3 L779.4 353.3 L780.4 353.3 L781.4 353.3 L782.4 353.3 L783.4 353.4 L784.4 353.5 L785.4 353.6 L786.4 353.8 L787.4 354.2 L788.4 354.7 L789.4 355.2 L790.4 355.9 L791.4 356.6 L792.4 357.3 L793.4 358.0 L794.4 358.8 L795.4 359.6 L796.4 360.2 L797.4 360.9 L797.5 361.5" fill="none" stroke="#77AC30" stroke-width="5.35" stroke-linejoin="round" stroke-linecap="butt"/>
<path d="M124.5 112.4 L125.5 113.1 L126.5 113.7 L127.5 114.4 L128.5 115.1 L129.5 115.7 L130.5 116.4 L131.5 117.1 L132.5 117.7 L133.5 118.4 L134.5 119.1 L135.5 119.8 L136.5 120.4 L137.5 121.1 L138.5 121.8 L139.5 122.5 L140.5 123.2 L141.5 123.9 L142.5 124.6 L143.5 125.3 L144.5 125.9 L145.5 126.6 L146.5 127.3 L147.5 128.0 L148.5 128.7 L149.5 129.4 L150.5 130.1 L151.5 130.8 L152.5 131.5 L153.5 132.2 L154.5 132.9 L155.5 133.6 L156.5 134.4 L157.5 135.1 L158.5 135.8 L159.5 136.5 L160.5 137.2 L161.5 137.9 L162.5 138.6 L163.5 139.3 L164.5 140.0 L165.5 140.7 L166.5 141.4 L167.5 142.1 L168.5 142.8 L169.5 143.5 L170.5 144.3 L171.5 145.0 L172.5 145.7 L173.5 146.4 L174.5 147.2 L175.5 147.9 L176.5 148.7 L177.5 149.4 L178.5 150.2 L179.5 151.0 L180.5 151.7 L181.5 152.5 L182.5 153.3 L183.5 154.1 L184.5 154.9 L185.5 155.7 L186.5 156.5 L187.5 157.4 L188.5 158.2 L189.5 159.0 L190.5 159.9 L191.5 160.7 L192.5 161.6 L193.5 162.4 L194.5 163.3 L195.5 164.2 L196.5 165.0 L197.5 165.9 L198.5 166.8 L199.5 167.7 L200.5 168.6 L201.5 169.5 L202.5 170.4 L203.5 171.3 L204.5 172.2 L205.5 173.1 L206.5 174.0 L207.5 174.9 L208.5 175.9 L209.5 176.8 L210.5 177.7 L211.5 178.6 L212.5 179.6 L213.5 180.5 L214.5 181.5 L215.5 182.4 L216.5 183.3 L217.5 184.3 L218.5 185.2 L219.5 186.2 L220.5 187.1 L221.5 188.1 L222.5 189.0 L223.5 190.0 L224.5 190.9 L225.5 191.9 L226.5 192.8 L227.5 193.7 L228.5 194.7 L229.5 195.6 L230.5 196.6 L231.5 197.5 L232.5 198.5 L233.5 199.4 L234.5 200.4 L235.5 201.3 L236.5 202.3 L237.5 203.2 L238.5 204.1 L239.5 205.1 L240.5 206.0 L241.5 206.9 L242.5 207.8 L243.5 208.8 L244.5 209.7 L245.5 210.6 L246.5 211.5 L247.5 212.4 L248.5 213.3 L249.5 214.1 L250.5 215.0 L251.5 215.9 L252.5 216.7 L253.5 217.6 L254.5 218.4 L255.5 219.3 L256.5 220.1 L257.5 220.9 L258.5 221.8 L259.5 222.6 L260.5 223.4 L261.5 224.2 L262.5 225.0 L263.5 225.8 L264.5 226.6 L265.5 227.4 L266.5 228.3 L267.5 229.1 L268.5 229.9 L269.5 230.7 L270.5 231.5 L271.5 232.3 L272.5 233.1 L273.5 233.9 L274.5 234.7 L275.5 235.5 L276.5 236.3 L277.5 237.1 L278.5 237.9 L279.5 238.7 L280.5 239.5 L281.5 240.3 L282.5 241.1 L283.5 241.9 L284.5 242.7 L285.5 243.5 L286.5 244.3 L287.5 245.1 L288.5 245.9 L289.5 246.6 L290.5 247.4 L291.5 248.1 L292.5 248.9 L293.5 249.6 L294.5 250.4 L295.5 251.1 L296.5 251.8 L297.5 252.5 L298.5 253.2 L299.5 253.9 L300.5 254.5 L301.5 255.2 L302.5 255.8 L303.5 256.4 L304.5 257.1 L305.5 257.7 L306.5 258.2 L307.5 258.8 L308.5 259.4 L309.5 260.0 L310.5 260.5 L311.5 261.1 L312.5 261.6 L313.5 262.1 L314.5 262.7 L315.5 263.2 L316.5 263.7 L317.5 264.2 L318.5 264.7 L319.5 265.3 L320.5 265.8 L321.5 266.3 L322.5 266.8 L323.5 267.3 L324.5 267.8 L325.5 268.3 L326.5 268.8 L327.5 269.3 L328.5 269.9 L329.5 270.4 L330.5 270.9 L331.5 271.5 L332.5 272.0 L333.5 272.6 L334.5 273.1 L335.5 273.7 L336.5 274.2 L337.5 274.7 L338.5 275.2 L339.5 275.8 L340.5 276.4 L341.5 277.0 L342.5 277.6 L343.5 278.2 L344.5 278.9 L345.5 279.7 L346.5 280.4 L347.5 281.2 L348.5 281.9 L349.5 282.7 L350.5 283.5 L351.5 284.3 L352.5 285.0 L353.5 285.8 L354.5 286.6 L355.5 287.4 L356.5 288.2 L357.5 289.1 L358.5 289.9 L359.5 290.8 L360.5 291.6 L361.5 292.5 L362.5 293.5 L363.5 294.4 L364.5 295.4 L365.5 296.5 L366.5 297.6 L367.5 298.8 L368.5 300.0 L369.5 301.2 L370.5 302.5 L371.5 303.8 L372.5 305.2 L373.5 306.6 L374.5 308.1 L375.5 309.6 L376.5 311.2 L377.5 312.9 L378.5 314.6 L379.5 316.4 L380.5 318.2 L381.5 320.1 L382.5 322.0 L383.5 324.0 L384.5 326.0 L385.5 328.1 L386.5 330.2 L387.5 332.4 L388.5 334.6 L389.5 336.9 L390.5 339.2 L391.5 341.5 L392.5 343.9 L393.5 346.2 L394.5 348.4 L395.5 350.7 L396.5 352.8 L397.5 355.0 L398.5 357.1 L399.5 359.1 L400.5 361.1 L401.5 363.1 L402.5 365.0 L403.5 366.9 L404.5 368.7 L405.5 370.4 L406.5 372.1 L407.5 373.7 L408.5 375.3 L409.5 376.9 L410.5 378.4 L411.5 379.9 L412.5 381.3 L413.5 382.8 L414.5 384.2 L415.5 385.5 L416.5 386.8 L417.5 388.1 L418.5 389.4 L419.5 390.6 L420.5 391.7 L421.5 392.8 L422.5 393.9 L423.5 394.9 L424.5 395.9 L425.5 396.8 L426.5 397.6 L427.5 398.4 L428.5 399.2 L429.5 400.0 L430.5 400.7 L431.5 401.3 L432.5 402.0 L433.5 402.6 L434.5 403.2 L435.5 403.8 L436.5 404.3 L437.5 404.8 L438.5 405.3 L439.5 405.7 L440.5 406.2 L441.5 406.6 L442.5 407.0 L443.5 407.4 L444.5 407.8 L445.5 408.1 L446.5 408.5 L447.5 408.8 L448.5 409.1 L449.5 409.3 L450.5 409.6 L451.5 409.9 L452.5 410.1 L453.5 410.3 L454.5 410.6 L455.5 410.8 L456.5 411.0 L457.5 411.2 L458.5 411.4 L459.5 411.5 L460.5 411.7 L461.5 411.9 L462.5 412.0 L463.5 412.1 L464.5 412.2 L465.5 412.4 L466.5 412.5 L467.5 412.6 L468.5 412.6 L469.5 412.7 L470.5 412.8 L471.5 412.9 L472.5 413.0 L473.5 413.0 L474.5 413.1 L475.5 413.2 L476.5 413.2 L477.5 413.3 L478.5 413.4 L479.5 413.5 L480.5 413.5 L481.5 413.6 L482.5 413.6 L483.5 413.7 L484.5 413.8 L485.5 413.8 L486.5 413.9 L487.5 413.9 L488.5 414.0 L489.5 414.0 L490.5 414.1 L491.5 414.1 L492.5 414.2 L493.5 414.2 L494.5 414.3 L495.5 414.3 L496.5 414.4 L497.5 414.4 L498.5 414.5 L499.5 414.5 L500.5 414.6 L501.5 414.6 L502.5 414.6 L503.5 414.7 L504.5 414.7 L505.5 414.7 L506.5 414.8 L507.5 414.8 L508.5 414.8 L509.5 414.9 L510.5 414.9 L511.5 414.9 L512.5 414.9 L513.5 414.9 L514.5 415.0 L515.5 415.0 L516.5 415.0 L517.5 415.0 L518.5 415.0 L519.5 415.0 L520.5 415.1 L521.5 415.1 L522.5 415.1 L523.5 415.1 L524.5 415.1 L525.5 415.1 L526.5 415.1 L527.5 415.1 L528.5 415.1 L529.5 415.1 L530.5 415.2 L531.5 415.2 L532.5 415.2 L533.5 415.2 L534.5 415.2 L535.5 415.2 L536.5 415.2 L537.5 415.2 L538.5 415.2 L539.5 415.2 L540.5 415.2 L541.5 415.2 L542.5 415.2 L543.5 415.2 L544.5 415.2 L545.5 415.2 L546.5 415.2 L547.5 415.2 L548.5 415.2 L549.5 415.2 L550.5 415.2 L551.5 415.2 L552.5 415.2 L553.5 415.2 L554.5 415.2 L555.5 415.2 L556.5 415.2 L557.5 415.2 L558.5 415.2 L559.5 415.2 L560.5 415.2 L561.5 415.2 L562.5 415.2 L563.5 415.2 L564.5 415.2 L565.5 415.2 L566.5 415.2 L567.5 415.2 L568.5 415.2 L569.5 415.2 L570.5 415.2 L571.5 415.2 L572.5 415.2 L573.5 415.2 L574.5 415.2 L575.5 415.2 L576.5 415.2 L577.5 415.2 L578.5 415.2 L579.5 415.2 L580.5 415.2 L581.5 415.2 L582.5 415.2 L583.5 415.2 L584.5 415.2 L585.5 415.2 L586.5 415.2 L587.5 415.2 L588.5 415.2 L589.5 415.2 L590.5 415.2 L591.5 415.2 L592.5 415.2 L593.5 415.2 L594.5 415.2 L595.5 415.2 L596.5 415.2 L597.5 415.2 L598.5 415.2 L599.5 415.2 L600.5 415.2 L601.5 415.2 L602.5 415.2 L603.5 415.2 L604.5 415.2 L605.5 415.2 L606.5 415.2 L607.5 415.2 L608.5 415.2 L609.5 415.2 L610.5 415.2 L611.5 415.2 L612.5 415.2 L613.5 415.2 L614.5 415.2 L615.5 415.2 L616.5 415.2 L617.5 415.2 L618.5 415.2 L619.5 415.2 L620.5 415.2 L621.5 415.2 L622.5 415.2 L623.5 415.2 L624.5 415.2 L625.5 415.2 L626.5 415.2 L627.5 415.2 L628.5 415.2 L629.5 415.2 L630.5 415.2 L631.5 415.2 L632.5 415.2 L633.5 415.2 L634.5 415.2 L635.5 415.2 L636.5 415.2 L637.5 415.2 L638.5 415.2 L639.5 415.2 L640.5 415.2 L641.5 415.2 L642.5 415.2 L643.5 415.2 L644.5 415.2 L645.5 415.2 L646.5 415.2 L647.5 415.2 L648.5 415.2 L649.5 415.2 L650.5 415.2 L651.5 415.2 L652.5 415.2 L653.5 415.2 L654.5 415.2 L655.5 415.2 L656.5 415.2 L657.5 415.2 L658.5 415.2 L659.5 415.2 L660.5 415.2 L661.5 415.2 L662.5 415.2 L663.5 415.2 L664.5 415.2 L665.5 415.2 L666.5 415.2 L667.5 415.2 L668.5 415.2 L669.5 415.2 L670.5 415.2 L671.5 415.2 L672.5 415.2 L673.5 415.2 L674.5 415.2 L675.5 415.2 L676.5 415.2 L677.5 415.2 L678.5 415.2 L679.5 415.2 L680.5 415.2 L681.5 415.2 L682.5 415.2 L683.5 415.2 L684.5 415.2 L685.5 415.2 L686.5 415.2 L687.5 415.2 L688.5 415.2 L689.5 415.2 L690.5 415.2 L691.5 415.2 L692.5 415.2 L693.5 415.2 L694.5 415.2 L695.5 415.2 L696.5 415.2 L697.5 415.2 L698.5 415.2 L699.5 415.2 L700.5 415.2 L701.5 415.2 L702.5 415.2 L703.5 415.2 L704.5 415.2 L705.5 415.2 L706.5 415.2 L707.5 415.2 L708.5 415.2 L709.5 415.2 L710.5 415.2 L711.5 415.2 L712.5 415.2 L713.5 415.2 L714.5 415.2 L715.5 415.2 L716.5 415.2 L717.5 415.2 L718.5 415.2 L719.5 415.2 L720.5 415.2 L721.5 415.2 L722.5 415.2 L723.5 415.2 L724.5 415.2 L725.5 415.2 L726.5 415.2 L727.5 415.2 L728.5 415.2 L729.5 415.2 L730.5 415.2 L731.5 415.2 L732.5 415.2 L733.5 415.2 L734.5 415.2 L735.5 415.2 L736.5 415.2 L737.5 415.2 L738.5 415.2 L739.5 415.2 L740.5 415.2 L741.5 415.2 L742.5 415.2 L743.5 415.2 L744.5 415.2 L745.5 415.2 L746.5 415.2 L747.5 415.2 L748.5 415.2 L749.5 415.2 L750.5 415.2 L751.5 415.2 L752.5 415.2 L753.5 415.2 L754.5 415.2 L755.5 415.2 L756.5 415.2 L757.5 415.2 L758.5 415.2 L759.5 415.2 L760.5 415.2 L761.5 415.2 L762.5 415.2 L763.5 415.2 L764.5 415.2 L765.5 415.2 L766.5 415.2 L767.5 415.2 L768.5 415.2 L769.5 415.2 L770.5 415.2 L771.5 415.2 L772.5 415.2 L773.5 415.2 L774.5 415.2 L775.5 415.2 L776.5 415.2 L777.5 415.2 L778.5 415.2 L779.5 415.2 L780.5 415.2 L781.5 415.2 L782.5 415.2 L783.5 415.2 L784.5 415.2 L785.5 415.2 L786.5 415.2 L787.5 415.2 L788.5 415.2 L789.5 415.2 L790.5 415.2 L791.5 415.2 L792.5 415.2 L793.5 415.2 L794.5 415.2 L795.5 415.2 L796.5 415.2 L797.5 415.2" fill="none" stroke="#404040" stroke-width="5.35" stroke-linejoin="round" stroke-linecap="butt"/>
<path d="M544.5 433.6 V18.8" stroke="#BFBFBF" stroke-width="4.8" stroke-dasharray="20.5 20.5" fill="none"/><path d="M651.8 433.6 V18.8" stroke="#BFBFBF" stroke-width="4.8" stroke-dasharray="20.5 20.5" fill="none"/><path d="M744.5 433.6 V18.8" stroke="#BFBFBF" stroke-width="4.8" stroke-dasharray="20.5 20.5" fill="none"/>
</g>
<rect x="124.50" y="462.50" width="672.50" height="413.90" fill="none" stroke="#3c3c3c" stroke-width="1"/><path d="M310.50 876.40 v-7.00 M310.50 462.50 v7.00 M497.50 876.40 v-7.00 M497.50 462.50 v7.00 M684.50 876.40 v-7.00 M684.50 462.50 v7.00 M124.50 865.50 h7.00 M797.00 865.50 h-7.00 M124.50 767.25 h7.00 M797.00 767.25 h-7.00 M124.50 669.00 h7.00 M797.00 669.00 h-7.00 M124.50 570.75 h7.00 M797.00 570.75 h-7.00 M124.50 472.50 h7.00 M797.00 472.50 h-7.00 " stroke="#454545" stroke-width="0.75" fill="none"/>
<g clip-path="url(#cb)">
<path d="M124.5 666.4 L125.5 666.4 L126.5 666.3 L127.5 666.3 L128.5 666.2 L129.5 666.2 L130.5 666.1 L131.5 666.1 L132.5 666.0 L133.5 666.0 L134.5 665.9 L135.5 665.9 L136.5 665.8 L137.5 665.8 L138.5 665.7 L139.5 665.7 L140.5 665.6 L141.5 665.6 L142.5 665.5 L143.5 665.4 L144.5 665.4 L145.5 665.3 L146.5 665.3 L147.5 665.2 L148.5 665.2 L149.5 665.1 L150.5 665.1 L151.5 665.0 L152.5 665.0 L153.5 664.9 L154.5 664.9 L155.5 664.8 L156.5 664.8 L157.5 664.7 L158.5 664.7 L159.5 664.6 L160.5 664.6 L161.5 664.5 L162.5 664.5 L163.5 664.4 L164.5 664.3 L165.5 664.3 L166.5 664.2 L167.5 664.2 L168.5 664.1 L169.5 664.1 L170.5 664.0 L171.5 664.0 L172.5 663.9 L173.5 663.9 L174.5 663.8 L175.5 663.7 L176.5 663.7 L177.5 663.6 L178.5 663.6 L179.5 663.5 L180.5 663.5 L181.5 663.4 L182.5 663.4 L183.5 663.3 L184.5 663.2 L185.5 663.2 L186.5 663.1 L187.5 663.1 L188.5 663.0 L189.5 663.0 L190.5 662.9 L191.5 662.8 L192.5 662.8 L193.5 662.7 L194.5 662.7 L195.5 662.6 L196.5 662.5 L197.5 662.5 L198.5 662.4 L199.5 662.4 L200.5 662.3 L201.5 662.2 L202.5 662.2 L203.5 662.1 L204.5 662.1 L205.5 662.0 L206.5 661.9 L207.5 661.9 L208.5 661.8 L209.5 661.8 L210.5 661.7 L211.5 661.6 L212.5 661.6 L213.5 661.5 L214.5 661.4 L215.5 661.4 L216.5 661.3 L217.5 661.3 L218.5 661.2 L219.5 661.1 L220.5 661.1 L221.5 661.0 L222.5 661.0 L223.5 660.9 L224.5 660.8 L225.5 660.8 L226.5 660.7 L227.5 660.7 L228.5 660.6 L229.5 660.6 L230.5 660.5 L231.5 660.4 L232.5 660.4 L233.5 660.3 L234.5 660.3 L235.5 660.2 L236.5 660.2 L237.5 660.1 L238.5 660.0 L239.5 660.0 L240.5 659.9 L241.5 659.9 L242.5 659.8 L243.5 659.8 L244.5 659.7 L245.5 659.7 L246.5 659.6 L247.5 659.5 L248.5 659.5 L249.5 659.4 L250.5 659.4 L251.5 659.3 L252.5 659.3 L253.5 659.2 L254.5 659.2 L255.5 659.1 L256.5 659.1 L257.5 659.0 L258.5 658.9 L259.5 658.9 L260.5 658.8 L261.5 658.8 L262.5 658.7 L263.5 658.6 L264.5 658.6 L265.5 658.5 L266.5 658.5 L267.5 658.4 L268.5 658.3 L269.5 658.3 L270.5 658.2 L271.5 658.2 L272.5 658.1 L273.5 658.0 L274.5 658.0 L275.5 657.9 L276.5 657.9 L277.5 657.8 L278.5 657.8 L279.5 657.7 L280.5 657.7 L281.5 657.6 L282.5 657.6 L283.5 657.5 L284.5 657.5 L285.5 657.5 L286.5 657.4 L287.5 657.4 L288.5 657.4 L289.5 657.3 L290.5 657.3 L291.5 657.3 L292.5 657.3 L293.5 657.3 L294.5 657.3 L295.5 657.2 L296.5 657.2 L297.5 657.2 L298.5 657.2 L299.5 657.2 L300.5 657.2 L301.5 657.2 L302.5 657.2 L303.5 657.2 L304.5 657.2 L305.5 657.2 L306.5 657.2 L307.5 657.3 L308.5 657.3 L309.5 657.3 L310.5 657.3 L311.5 657.3 L312.5 657.4 L313.5 657.4 L314.5 657.4 L315.5 657.5 L316.5 657.5 L317.5 657.6 L318.5 657.6 L319.5 657.7 L320.5 657.8 L321.5 657.8 L322.5 657.9 L323.5 658.0 L324.5 658.1 L325.5 658.1 L326.5 658.2 L327.5 658.3 L328.5 658.4 L329.5 658.5 L330.5 658.5 L331.5 658.6 L332.5 658.7 L333.5 658.8 L334.5 658.9 L335.5 659.0 L336.5 659.0 L337.5 659.1 L338.5 659.2 L339.5 659.3 L340.5 659.3 L341.5 659.4 L342.5 659.5 L343.5 659.5 L344.5 659.6 L345.5 659.6 L346.5 659.7 L347.5 659.7 L348.5 659.8 L349.5 659.8 L350.5 659.8 L351.5 659.9 L352.5 659.9 L353.5 659.9 L354.5 659.9 L355.5 659.9 L356.5 659.9 L357.5 659.9 L358.5 659.9 L359.5 659.9 L360.5 659.9 L361.5 659.9 L362.5 659.9 L363.5 659.9 L364.5 659.8 L365.5 659.8 L366.5 659.8 L367.5 659.8 L368.5 659.7 L369.5 659.6 L370.5 659.5 L371.5 659.4 L372.5 659.3 L373.5 659.2 L374.5 659.0 L375.5 658.8 L376.5 658.7 L377.5 658.5 L378.5 658.3 L379.5 658.1 L380.5 657.9 L381.5 657.7 L382.5 657.4 L383.5 657.2 L384.5 656.9 L385.5 656.6 L386.5 656.3 L387.5 656.0 L388.5 655.7 L389.5 655.3 L390.5 655.0 L391.5 654.6 L392.5 654.3 L393.5 653.9 L394.5 653.5 L395.5 653.1 L396.5 652.8 L397.5 652.4 L398.5 652.0 L399.5 651.6 L400.5 651.2 L401.5 650.8 L402.5 650.3 L403.5 649.9 L404.5 649.5 L405.5 649.1 L406.5 648.7 L407.5 648.3 L408.5 647.9 L409.5 647.5 L410.5 647.1 L411.5 646.7 L412.5 646.4 L413.5 646.1 L414.5 645.8 L415.5 645.6 L416.5 645.3 L417.5 645.1 L418.5 644.9 L419.5 644.7 L420.5 644.5 L421.5 644.4 L422.5 644.2 L423.5 644.1 L424.5 644.0 L425.5 643.9 L426.5 643.8 L427.5 643.7 L428.5 643.6 L429.5 643.5 L430.5 643.4 L431.5 643.3 L432.5 643.2 L433.5 643.1 L434.5 643.0 L435.5 642.9 L436.5 642.8 L437.5 642.7 L438.5 642.7 L439.5 642.6 L440.5 642.5 L441.5 642.5 L442.5 642.4 L443.5 642.4 L444.5 642.3 L445.5 642.3 L446.5 642.2 L447.5 642.2 L448.5 642.2 L449.5 642.1 L450.5 642.1 L451.5 642.1 L452.5 642.1 L453.5 642.0 L454.5 642.0 L455.5 642.0 L456.5 642.0 L457.5 642.0 L458.5 642.0 L459.5 642.0 L460.5 642.0 L461.5 642.0 L462.5 642.0 L463.5 642.0 L464.5 642.0 L465.5 642.1 L466.5 642.1 L467.5 642.1 L468.5 642.1 L469.5 642.2 L470.5 642.2 L471.5 642.2 L472.5 642.3 L473.5 642.3 L474.5 642.4 L475.5 642.4 L476.5 642.5 L477.5 642.5 L478.5 642.6 L479.5 642.7 L480.5 642.7 L481.5 642.8 L482.5 642.9 L483.5 643.0 L484.5 643.1 L485.5 643.2 L486.5 643.3 L487.5 643.4 L488.5 643.5 L489.5 643.6 L490.5 643.7 L491.5 643.8 L492.5 643.9 L493.5 644.0 L494.5 644.1 L495.5 644.3 L496.5 644.5 L497.5 644.7 L498.5 644.9 L499.5 645.2 L500.5 645.4 L501.5 645.7 L502.5 645.9 L503.5 646.2 L504.5 646.5 L505.5 646.8 L506.5 647.2 L507.5 647.6 L508.5 648.0 L509.5 648.5 L510.5 648.9 L511.5 649.4 L512.5 650.0 L513.5 650.5 L514.5 651.1 L515.5 651.8 L516.5 652.5 L517.5 653.2 L518.5 654.0 L519.5 654.9 L520.5 655.8 L521.5 656.8 L522.5 657.8 L523.5 658.9 L524.5 660.0 L525.5 661.2 L526.5 662.4 L527.5 663.6 L528.5 664.8 L529.5 666.0 L530.5 667.3 L531.5 668.5 L532.5 669.8 L533.5 671.0 L534.5 672.3 L535.5 673.6 L536.5 674.9 L537.5 676.2 L538.5 677.6 L539.5 679.0 L540.5 680.5 L541.5 682.1 L542.5 683.7 L543.5 685.3 L544.5 687.1 L545.5 688.8 L546.5 690.6 L547.5 692.3 L548.5 694.1 L549.5 695.8 L550.5 697.6 L551.5 699.3 L552.5 700.9 L553.5 702.6 L554.5 704.2 L555.5 705.8 L556.5 707.5 L557.5 709.1 L558.5 710.6 L559.5 712.2 L560.5 713.7 L561.5 715.1 L562.5 716.4 L563.5 717.7 L564.5 718.9 L565.5 720.0 L566.5 721.1 L567.5 722.1 L568.5 723.2 L569.5 724.2 L570.5 725.3 L571.5 726.3 L572.5 727.4 L573.5 728.5 L574.5 729.5 L575.5 730.5 L576.5 731.4 L577.5 732.4 L578.5 733.3 L579.5 734.1 L580.5 735.0 L581.5 735.8 L582.5 736.6 L583.5 737.4 L584.5 738.1 L585.5 738.9 L586.5 739.6 L587.5 740.2 L588.5 740.9 L589.5 741.5 L590.5 742.1 L591.5 742.7 L592.5 743.2 L593.5 743.7 L594.5 744.2 L595.5 744.7 L596.5 745.1 L597.5 745.6 L598.5 746.0 L599.5 746.4 L600.5 746.7 L601.5 747.1 L602.5 747.4 L603.5 747.7 L604.5 748.0 L605.5 748.2 L606.5 748.5 L607.5 748.7 L608.5 748.9 L609.5 749.1 L610.5 749.2 L611.5 749.4 L612.5 749.5 L613.5 749.6 L614.5 749.7 L615.5 749.8 L616.5 749.9 L617.5 749.9 L618.5 749.9 L619.5 750.0 L620.5 750.0 L621.5 750.0 L622.5 750.1 L623.5 750.1 L624.5 750.1 L625.5 750.1 L626.5 750.0 L627.5 750.0 L628.5 749.9 L629.5 749.7 L630.5 749.6 L631.5 749.4 L632.5 749.2 L633.5 749.0 L634.5 748.8 L635.5 748.6 L636.5 748.4 L637.5 748.2 L638.5 747.9 L639.5 747.7 L640.5 747.4 L641.5 747.2 L642.5 746.9 L643.5 746.6 L644.5 746.4 L645.5 746.1 L646.5 745.9 L647.5 745.7 L648.5 745.5 L649.5 745.3 L650.5 745.2 L651.5 745.2 L652.5 745.2 L653.5 745.3 L654.5 745.6 L655.5 746.0 L656.5 746.6 L657.5 747.3 L658.5 748.1 L659.5 749.2 L660.5 750.5 L661.5 752.0 L662.5 753.8 L663.5 755.9 L664.5 758.4 L665.5 761.2 L666.5 764.4 L667.5 767.9 L668.5 771.7 L669.5 775.7 L670.5 779.9 L671.5 784.2 L672.5 788.6 L673.5 793.0 L674.5 797.3 L675.5 801.6 L676.5 805.8 L677.5 809.9 L678.5 813.8 L679.5 817.5 L680.5 821.0 L681.5 824.3 L682.5 827.4 L683.5 830.3 L684.5 833.0 L685.5 835.4 L686.5 837.7 L687.5 839.8 L688.5 841.7 L689.5 843.4 L690.5 845.0 L691.5 846.5 L692.5 847.8 L693.5 849.1 L694.5 850.2 L695.5 851.3 L696.5 852.3 L697.5 853.2 L698.5 854.0 L699.5 854.8 L700.5 855.5 L701.5 856.2 L702.5 856.8 L703.5 857.3 L704.5 857.9 L705.5 858.3 L706.5 858.8 L707.5 859.2 L708.5 859.5 L709.5 859.8 L710.5 860.1 L711.5 860.4 L712.5 860.6 L713.5 860.9 L714.5 861.1 L715.5 861.3 L716.5 861.5 L717.5 861.7 L718.5 861.9 L719.5 862.1 L720.5 862.2 L721.5 862.3 L722.5 862.5 L723.5 862.6 L724.5 862.7 L725.5 862.8 L726.5 862.9 L727.5 863.0 L728.5 863.1 L729.5 863.2 L730.5 863.3 L731.5 863.4 L732.5 863.5 L733.5 863.6 L734.5 863.6 L735.5 863.7 L736.5 863.8 L737.5 863.9 L738.5 864.0 L739.5 864.0 L740.5 864.1 L741.5 864.2 L742.5 864.2 L743.5 864.3 L744.5 864.3 L745.5 864.4 L746.5 864.5 L747.5 864.5 L748.5 864.6 L749.5 864.6 L750.5 864.7 L751.5 864.7 L752.5 864.8 L753.5 864.8 L754.5 864.9 L755.5 864.9 L756.5 865.0 L757.5 865.0 L758.5 865.1 L759.5 865.1 L760.5 865.2 L761.5 865.2 L762.5 865.2 L763.5 865.3 L764.5 865.3 L765.5 865.3 L766.5 865.4 L767.5 865.4 L768.5 865.4 L769.5 865.5 L770.5 865.5 L771.5 865.5 L772.5 865.5 L773.5 865.5 L774.5 865.6 L775.5 865.6 L776.5 865.6 L777.5 865.6 L778.5 865.6 L779.5 865.6 L780.5 865.6 L781.5 865.6 L782.5 865.6 L783.5 865.6 L784.5 865.6 L785.5 865.6 L786.5 865.6 L787.5 865.6 L788.5 865.6 L789.5 865.6 L790.5 865.6 L791.5 865.6 L792.5 865.6 L793.5 865.5 L794.5 865.5 L795.5 865.5 L796.5 865.5 L797.5 865.5" fill="none" stroke="#A2142F" stroke-width="5.35" stroke-linejoin="round" stroke-linecap="butt"/>
<path d="M124.5 661.0 L156.1 653.4 L192.3 645.2 L193.3 645.1 L194.3 645.0 L195.3 644.9 L196.3 644.8 L197.3 644.7 L198.3 644.6 L199.3 644.5 L200.3 644.4 L201.3 644.3 L202.3 644.2 L203.3 644.1 L204.3 644.0 L205.3 643.9 L206.3 643.8 L207.3 643.7 L208.3 643.6 L209.3 643.5 L210.3 643.4 L211.3 643.3 L212.3 643.2 L213.3 643.1 L214.3 643.0 L215.3 642.9 L216.3 642.8 L217.3 642.7 L218.3 642.6 L219.3 642.5 L220.3 642.4 L221.3 642.3 L222.3 642.2 L223.3 642.1 L224.3 642.0 L225.3 641.9 L226.3 641.8 L227.3 641.7 L228.3 641.6 L229.3 641.5 L230.3 641.4 L231.3 641.3 L232.3 641.2 L233.3 641.1 L234.3 641.1 L235.3 641.0 L236.3 640.9 L237.3 640.8 L238.3 640.7 L239.3 640.6 L240.3 640.5 L241.3 640.4 L242.3 640.3 L243.3 640.2 L244.3 640.1 L245.3 640.0 L246.3 639.9 L247.3 639.9 L248.3 639.8 L249.3 639.7 L250.3 639.6 L251.3 639.5 L252.3 639.4 L253.3 639.3 L254.3 639.2 L255.3 639.1 L256.3 639.0 L257.3 638.9 L258.3 638.8 L259.3 638.7 L260.3 638.6 L261.3 638.5 L262.3 638.4 L263.3 638.3 L264.3 638.2 L265.3 638.0 L266.3 637.9 L267.3 637.8 L268.3 637.7 L269.3 637.6 L270.3 637.4 L271.3 637.3 L272.3 637.2 L273.3 637.1 L274.3 636.9 L275.3 636.8 L276.3 636.7 L277.3 636.5 L278.3 636.4 L279.3 636.3 L280.3 636.1 L281.3 636.0 L282.3 635.9 L283.3 635.7 L284.3 635.6 L285.3 635.5 L286.3 635.4 L287.3 635.2 L288.3 635.1 L289.3 635.0 L290.3 634.9 L291.3 634.8 L292.3 634.7 L293.3 634.6 L294.3 634.5 L295.3 634.4 L296.3 634.3 L297.3 634.2 L298.3 634.1 L299.3 634.0 L300.3 633.9 L301.3 633.8 L302.3 633.7 L303.3 633.6 L304.3 633.5 L305.3 633.4 L306.3 633.4 L307.3 633.3 L308.3 633.2 L309.3 633.1 L310.3 633.1 L311.3 633.0 L312.3 632.9 L313.3 632.8 L314.3 632.8 L315.3 632.7 L316.3 632.6 L317.3 632.5 L318.3 632.5 L319.3 632.4 L320.3 632.3 L321.3 632.2 L322.3 632.2 L323.3 632.1 L324.3 632.0 L325.3 632.0 L326.3 631.9 L327.3 631.8 L328.3 631.7 L329.3 631.7 L330.3 631.6 L331.3 631.5 L332.3 631.4 L333.3 631.4 L334.3 631.3 L335.3 631.2 L336.3 631.1 L337.3 631.0 L338.3 630.9 L339.3 630.9 L340.3 630.8 L341.3 630.7 L342.3 630.6 L343.3 630.5 L344.3 630.4 L345.3 630.3 L346.3 630.2 L347.3 630.1 L348.3 630.0 L349.3 629.9 L350.3 629.8 L351.3 629.7 L352.3 629.6 L353.3 629.5 L354.3 629.3 L355.3 629.2 L356.3 629.0 L357.3 628.8 L358.3 628.6 L359.3 628.4 L360.3 628.1 L361.3 627.9 L362.3 627.6 L363.3 627.3 L364.3 627.0 L365.3 626.7 L366.3 626.4 L367.3 626.0 L368.3 625.7 L369.3 625.4 L370.3 625.0 L371.3 624.7 L372.3 624.3 L373.3 624.0 L374.3 623.6 L375.3 623.3 L376.3 622.9 L377.3 622.5 L378.3 622.1 L379.3 621.7 L380.3 621.3 L381.3 620.9 L382.3 620.5 L383.3 620.0 L384.3 619.5 L385.3 619.0 L386.3 618.5 L387.3 618.0 L388.3 617.5 L389.3 616.9 L390.3 616.3 L391.3 615.7 L392.3 615.0 L393.3 614.4 L394.3 613.7 L395.3 613.1 L396.3 612.4 L397.3 611.7 L398.3 611.1 L399.3 610.4 L400.3 609.8 L401.3 609.1 L402.3 608.5 L403.3 607.8 L404.3 607.2 L405.3 606.6 L406.3 606.0 L407.3 605.4 L408.3 604.8 L409.3 604.2 L410.3 603.7 L411.3 603.1 L412.3 602.6 L413.3 602.2 L414.3 601.7 L415.3 601.3 L416.3 600.9 L417.3 600.5 L418.3 600.1 L419.3 599.7 L420.3 599.3 L421.3 599.0 L422.3 598.6 L423.3 598.3 L424.3 597.9 L425.3 597.6 L426.3 597.3 L427.3 597.0 L428.3 596.7 L429.3 596.4 L430.3 596.1 L431.3 595.8 L432.3 595.6 L433.3 595.3 L434.3 595.1 L435.3 594.9 L436.3 594.7 L437.3 594.6 L438.3 594.4 L439.3 594.3 L440.3 594.1 L441.3 594.0 L442.3 593.9 L443.3 593.9 L444.3 593.8 L445.3 593.7 L446.3 593.7 L447.3 593.6 L448.3 593.6 L449.3 593.5 L450.3 593.5 L451.3 593.4 L452.3 593.4 L453.3 593.3 L454.3 593.3 L455.3 593.3 L456.3 593.2 L457.3 593.2 L458.3 593.2 L459.3 593.2 L460.3 593.2 L461.3 593.2 L462.3 593.2 L463.3 593.2 L464.3 593.2 L465.3 593.2 L466.3 593.2 L467.3 593.2 L468.3 593.2 L469.3 593.3 L470.3 593.3 L471.3 593.4 L472.3 593.4 L473.3 593.5 L474.3 593.5 L475.3 593.6 L476.3 593.6 L477.3 593.7 L478.3 593.8 L479.3 593.9 L480.3 594.0 L481.3 594.1 L482.3 594.2 L483.3 594.3 L484.3 594.4 L485.3 594.5 L486.3 594.6 L487.3 594.7 L488.3 594.8 L489.3 595.0 L490.3 595.1 L491.3 595.2 L492.3 595.4 L493.3 595.5 L494.3 595.7 L495.3 595.8 L496.3 596.0 L497.3 596.1 L498.3 596.3 L499.3 596.4 L500.3 596.6 L501.3 596.8 L502.3 596.9 L503.3 597.1 L504.3 597.3 L505.3 597.5 L506.3 597.7 L507.3 597.9 L508.3 598.1 L509.3 598.2 L510.3 598.4 L511.3 598.6 L512.3 598.8 L513.3 599.0 L514.3 599.2 L515.3 599.4 L516.3 599.6 L517.3 599.8 L518.3 600.1 L519.3 600.3 L520.3 600.6 L521.3 600.8 L522.3 601.1 L523.3 601.4 L524.3 601.6 L525.3 601.9 L526.3 602.1 L527.3 602.3 L528.3 602.6 L529.3 602.8 L530.3 603.0 L531.3 603.1 L532.3 603.3 L533.3 603.4 L534.3 603.6 L535.3 603.7 L536.3 603.8 L537.3 603.9 L538.3 603.9 L539.3 604.0 L540.3 604.0 L541.3 604.0 L542.3 604.0 L543.3 603.9 L544.3 603.9 L545.3 603.8 L546.3 603.7 L547.3 603.6 L548.3 603.5 L549.3 603.4 L550.3 603.2 L551.3 603.0 L552.3 602.8 L553.3 602.6 L554.3 602.3 L555.3 602.1 L556.3 601.8 L557.3 601.5 L558.3 601.1 L559.3 600.8 L560.3 600.4 L561.3 600.0 L562.3 599.5 L563.3 599.1 L564.3 598.7 L565.3 598.2 L566.3 597.7 L567.3 597.3 L568.3 596.8 L569.3 596.4 L570.3 595.9 L571.3 595.4 L572.3 595.0 L573.3 594.5 L574.3 594.1 L575.3 593.7 L576.3 593.2 L577.3 592.8 L578.3 592.4 L579.3 592.0 L580.3 591.6 L581.3 591.2 L582.3 590.8 L583.3 590.4 L584.3 590.0 L585.3 589.6 L586.3 589.3 L587.3 588.9 L588.3 588.6 L589.3 588.2 L590.3 587.9 L591.3 587.6 L592.3 587.3 L593.3 587.0 L594.3 586.7 L595.3 586.4 L596.3 586.2 L597.3 585.9 L598.3 585.7 L599.3 585.5 L600.3 585.3 L601.3 585.1 L602.3 584.9 L603.3 584.8 L604.3 584.6 L605.3 584.5 L606.3 584.4 L607.3 584.3 L608.3 584.2 L609.3 584.1 L610.3 584.1 L611.3 584.0 L612.3 584.0 L613.3 584.0 L614.3 584.0 L615.3 584.0 L616.3 584.0 L617.3 584.1 L618.3 584.1 L619.3 584.2 L620.3 584.2 L621.3 584.3 L622.3 584.3 L623.3 584.4 L624.3 584.4 L625.3 584.5 L626.3 584.6 L627.3 584.8 L628.3 584.9 L629.3 585.1 L630.3 585.4 L631.3 585.6 L632.3 585.9 L633.3 586.1 L634.3 586.4 L635.3 586.7 L636.3 587.0 L637.3 587.3 L638.3 587.6 L639.3 587.9 L640.3 588.3 L641.3 588.6 L642.3 589.0 L643.3 589.3 L644.3 589.7 L645.3 590.0 L646.3 590.3 L647.3 590.5 L648.3 590.8 L649.3 591.0 L650.3 591.1 L651.3 591.2 L652.3 591.2 L653.3 591.1 L654.3 590.9 L655.3 590.5 L656.3 589.9 L657.3 589.2 L658.3 588.2 L659.3 587.0 L660.3 585.6 L661.3 583.8 L662.3 581.8 L663.3 579.5 L664.3 576.9 L665.3 574.0 L666.3 570.8 L667.3 567.3 L668.3 563.6 L669.3 559.6 L670.3 555.4 L671.3 551.0 L672.3 546.5 L673.3 541.9 L674.3 537.3 L675.3 532.7 L676.3 528.3 L677.3 524.0 L678.3 520.1 L679.3 516.4 L680.3 512.9 L681.3 509.7 L682.3 506.7 L683.3 504.0 L684.3 501.4 L685.3 499.1 L686.3 496.9 L687.3 495.0 L688.3 493.2 L689.3 491.5 L690.3 490.1 L691.3 488.7 L692.3 487.5 L693.3 486.3 L694.3 485.3 L695.3 484.3 L696.3 483.4 L697.3 482.5 L698.3 481.8 L699.3 481.1 L700.3 480.5 L701.3 479.9 L702.3 479.4 L703.3 479.0 L704.3 478.6 L705.3 478.2 L706.3 477.9 L707.3 477.5 L708.3 477.2 L709.3 477.0 L710.3 476.7 L711.3 476.5 L712.3 476.3 L713.3 476.0 L714.3 475.8 L715.3 475.6 L716.3 475.4 L717.3 475.2 L718.3 475.1 L719.3 474.9 L720.3 474.8 L721.3 474.7 L722.3 474.6 L723.3 474.5 L724.3 474.5 L725.3 474.4 L726.3 474.3 L727.3 474.2 L728.3 474.2 L729.3 474.1 L730.3 474.0 L731.3 473.9 L732.3 473.8 L733.3 473.7 L734.3 473.6 L735.3 473.6 L736.3 473.5 L737.3 473.4 L738.3 473.3 L739.3 473.3 L740.3 473.2 L741.3 473.2 L742.3 473.1 L743.3 473.0 L744.3 473.0 L745.3 472.9 L746.3 472.9 L747.3 472.8 L748.3 472.8 L749.3 472.7 L750.3 472.7 L751.3 472.7 L752.3 472.6 L753.3 472.6 L754.3 472.6 L755.3 472.5 L756.3 472.5 L757.3 472.5 L758.3 472.5 L759.3 472.5 L760.3 472.4 L761.3 472.4 L762.3 472.4 L763.3 472.4 L764.3 472.4 L765.3 472.4 L766.3 472.4 L767.3 472.4 L768.3 472.4 L769.3 472.3 L770.3 472.3 L771.3 472.3 L772.3 472.3 L773.3 472.3 L774.3 472.3 L775.3 472.3 L776.3 472.3 L777.3 472.3 L778.3 472.3 L779.3 472.3 L780.3 472.3 L781.3 472.3 L782.3 472.3 L783.3 472.3 L784.3 472.3 L785.3 472.3 L786.3 472.3 L787.3 472.3 L788.3 472.3 L789.3 472.3 L790.3 472.3 L791.3 472.3 L792.3 472.3 L793.3 472.3 L794.3 472.3 L795.3 472.3 L796.3 472.3 L797.3 472.3 L797.5 472.3" fill="none" stroke="#0072BD" stroke-width="5.35" stroke-linejoin="round" stroke-linecap="butt"/>
<path d="M544.5 876.9 V462.5" stroke="#BFBFBF" stroke-width="4.8" stroke-dasharray="20.5 20.5" fill="none"/><path d="M651.8 876.9 V462.5" stroke="#BFBFBF" stroke-width="4.8" stroke-dasharray="20.5 20.5" fill="none"/><path d="M744.5 876.9 V462.5" stroke="#BFBFBF" stroke-width="4.8" stroke-dasharray="20.5 20.5" fill="none"/>
</g>
<text x="114.9" y="425.4" font-family="Liberation Sans, sans-serif" font-size="27.3" text-anchor="end" fill="#000">0</text>
<text x="114.9" y="339.2" font-family="Liberation Sans, sans-serif" font-size="27.3" text-anchor="end" fill="#000">0.5</text>
<text x="114.9" y="253.1" font-family="Liberation Sans, sans-serif" font-size="27.3" text-anchor="end" fill="#000">1</text>
<text x="114.9" y="166.9" font-family="Liberation Sans, sans-serif" font-size="27.3" text-anchor="end" fill="#000">1.5</text>
<text x="114.9" y="80.8" font-family="Liberation Sans, sans-serif" font-size="27.3" text-anchor="end" fill="#000">2</text>
<text x="114.9" y="875.9" font-family="Liberation Sans, sans-serif" font-size="27.3" text-anchor="end" fill="#000">−100</text>
<text x="114.9" y="777.6" font-family="Liberation Sans, sans-serif" font-size="27.3" text-anchor="end" fill="#000">−50</text>
<text x="114.9" y="679.4" font-family="Liberation Sans, sans-serif" font-size="27.3" text-anchor="end" fill="#000">0</text>
<text x="114.9" y="581.1" font-family="Liberation Sans, sans-serif" font-size="27.3" text-anchor="end" fill="#000">50</text>
<text x="114.9" y="482.9" font-family="Liberation Sans, sans-serif" font-size="27.3" text-anchor="end" fill="#000">100</text>
<text x="124.8" y="911.5" font-family="Liberation Sans, sans-serif" font-size="27.3" text-anchor="middle" fill="#000">0</text>
<text x="310.5" y="911.5" font-family="Liberation Sans, sans-serif" font-size="27.3" text-anchor="middle" fill="#000">0.05</text>
<text x="497.4" y="911.5" font-family="Liberation Sans, sans-serif" font-size="27.3" text-anchor="middle" fill="#000">0.1</text>
<text x="684.5" y="911.5" font-family="Liberation Sans, sans-serif" font-size="27.3" text-anchor="middle" fill="#000">0.15</text>
<text x="138.5" y="47.4" font-family="Liberation Serif, serif" font-size="27.5" fill="#000">(a)</text>
<text x="138.5" y="490.3" font-family="Liberation Serif, serif" font-size="27.5" fill="#000">(b)</text>
<text transform="translate(55.4,340.8) rotate(-90)" font-family="Liberation Serif, serif" font-size="27.5" fill="#000" textLength="140" lengthAdjust="spacingAndGlyphs">Conductance</text>
<text transform="translate(55.4,191.6) rotate(-90)" font-family="Liberation Serif, serif" font-size="27.5" fill="#000" ><tspan font-style="italic">G</tspan></text>
<path d="M61.7 168.3 L34.4 158.1" stroke="#000" stroke-width="1.15" fill="none"/>
<text transform="translate(55.4,154.3) rotate(-90)" font-family="Liberation Serif, serif" font-size="27.5" fill="#000" ><tspan font-style="italic">G</tspan></text>
<text transform="translate(59.8,131.6) rotate(-90)" font-family="Liberation Serif, serif" font-size="16.5" fill="#000" textLength="8.6" lengthAdjust="spacingAndGlyphs">0</text>
<text transform="translate(30.7,702.6) rotate(-90)" font-family="Liberation Serif, serif" font-size="27.5" fill="#000" ><tspan font-style="italic">P</tspan>(%)</text>
<text x="414.6" y="949" font-family="Liberation Serif, serif" font-size="27.5" fill="#000" font-style="italic">U</text>
<text x="435" y="953.4" font-family="Liberation Serif, serif" font-size="19" fill="#000" font-style="italic">b</text>
<text x="454.5" y="949" font-family="Liberation Serif, serif" font-size="27.5" fill="#000" textLength="48" lengthAdjust="spacingAndGlyphs">(eV)</text>
<rect x="140.9" y="280.8" width="211" height="136.8" fill="#fff" stroke="#000" stroke-width="2"/>
<path d="M159.7 300.9 H258" stroke="#A2142F" stroke-width="5.35"/>
<path d="M274.65 290.60 V313.80 M270.05 294.70 Q273.75 293.50 274.65 290.60 Q275.55 293.50 279.25 294.70" stroke="#000" stroke-width="1.05" fill="none" stroke-linecap="butt" stroke-linejoin="round"/>
<text transform="translate(294.3,308.5) scale(1.07,1)" font-family="Liberation Serif, serif" font-size="29.5" fill="#000" font-style="italic">K</text>
<path d="M316.95 307.60 H329.15 M323.05 301.40 V313.80" stroke="#000" stroke-width="0.95" fill="none"/>
<path d="M159.7 332.8 H258" stroke="#0072BD" stroke-width="5.35"/>
<path d="M274.65 321.65 V345.05 M270.05 340.95 Q273.75 342.15 274.65 345.05 Q275.55 342.15 279.25 340.95" stroke="#000" stroke-width="1.05" fill="none" stroke-linecap="butt" stroke-linejoin="round"/>
<text transform="translate(294.3,340.4) scale(1.07,1)" font-family="Liberation Serif, serif" font-size="29.5" fill="#000" font-style="italic">K</text>
<path d="M316.95 339.45 H329.15 M323.05 333.25 V345.65" stroke="#000" stroke-width="0.95" fill="none"/>
<path d="M159.7 364.1 H258" stroke="#77AC30" stroke-width="5.35"/>
<path d="M274.65 353.80 V377.00 M270.05 357.90 Q273.75 356.70 274.65 353.80 Q275.55 356.70 279.25 357.90" stroke="#000" stroke-width="1.05" fill="none" stroke-linecap="butt" stroke-linejoin="round"/>
<text transform="translate(294.3,371.7) scale(1.07,1)" font-family="Liberation Serif, serif" font-size="29.5" fill="#000" font-style="italic">K</text>
<path d="M316.95 370.80 H329.15" stroke="#000" stroke-width="0.95" fill="none"/>
<path d="M159.7 395.8 H258" stroke="#404040" stroke-width="5.35"/>
<path d="M274.65 384.70 V408.10 M270.05 404.00 Q273.75 405.20 274.65 408.10 Q275.55 405.20 279.25 404.00" stroke="#000" stroke-width="1.05" fill="none" stroke-linecap="butt" stroke-linejoin="round"/>
<text transform="translate(294.3,403.4) scale(1.07,1)" font-family="Liberation Serif, serif" font-size="29.5" fill="#000" font-style="italic">K</text>
<path d="M316.95 402.50 H329.15" stroke="#000" stroke-width="0.95" fill="none"/>
<rect x="140.9" y="789.2" width="177.8" height="71" fill="#fff" stroke="#000" stroke-width="2"/>
<path d="M159.7 808.9 H257.8" stroke="#0072BD" stroke-width="5.35"/>
<text x="268" y="816.8" font-family="Liberation Serif, serif" font-size="28" fill="#000" font-style="italic">P</text>
<text x="285" y="821.4" font-family="Liberation Serif, serif" font-size="19.5" fill="#000" font-style="italic">s</text>
<path d="M159.7 839.8 H257.8" stroke="#A2142F" stroke-width="5.35"/>
<text x="268" y="847.7" font-family="Liberation Serif, serif" font-size="28" fill="#000" font-style="italic">P</text>
<text x="285" y="852.3" font-family="Liberation Serif, serif" font-size="19.5" fill="#000" font-style="italic">v</text>
</svg>
</body></html>
